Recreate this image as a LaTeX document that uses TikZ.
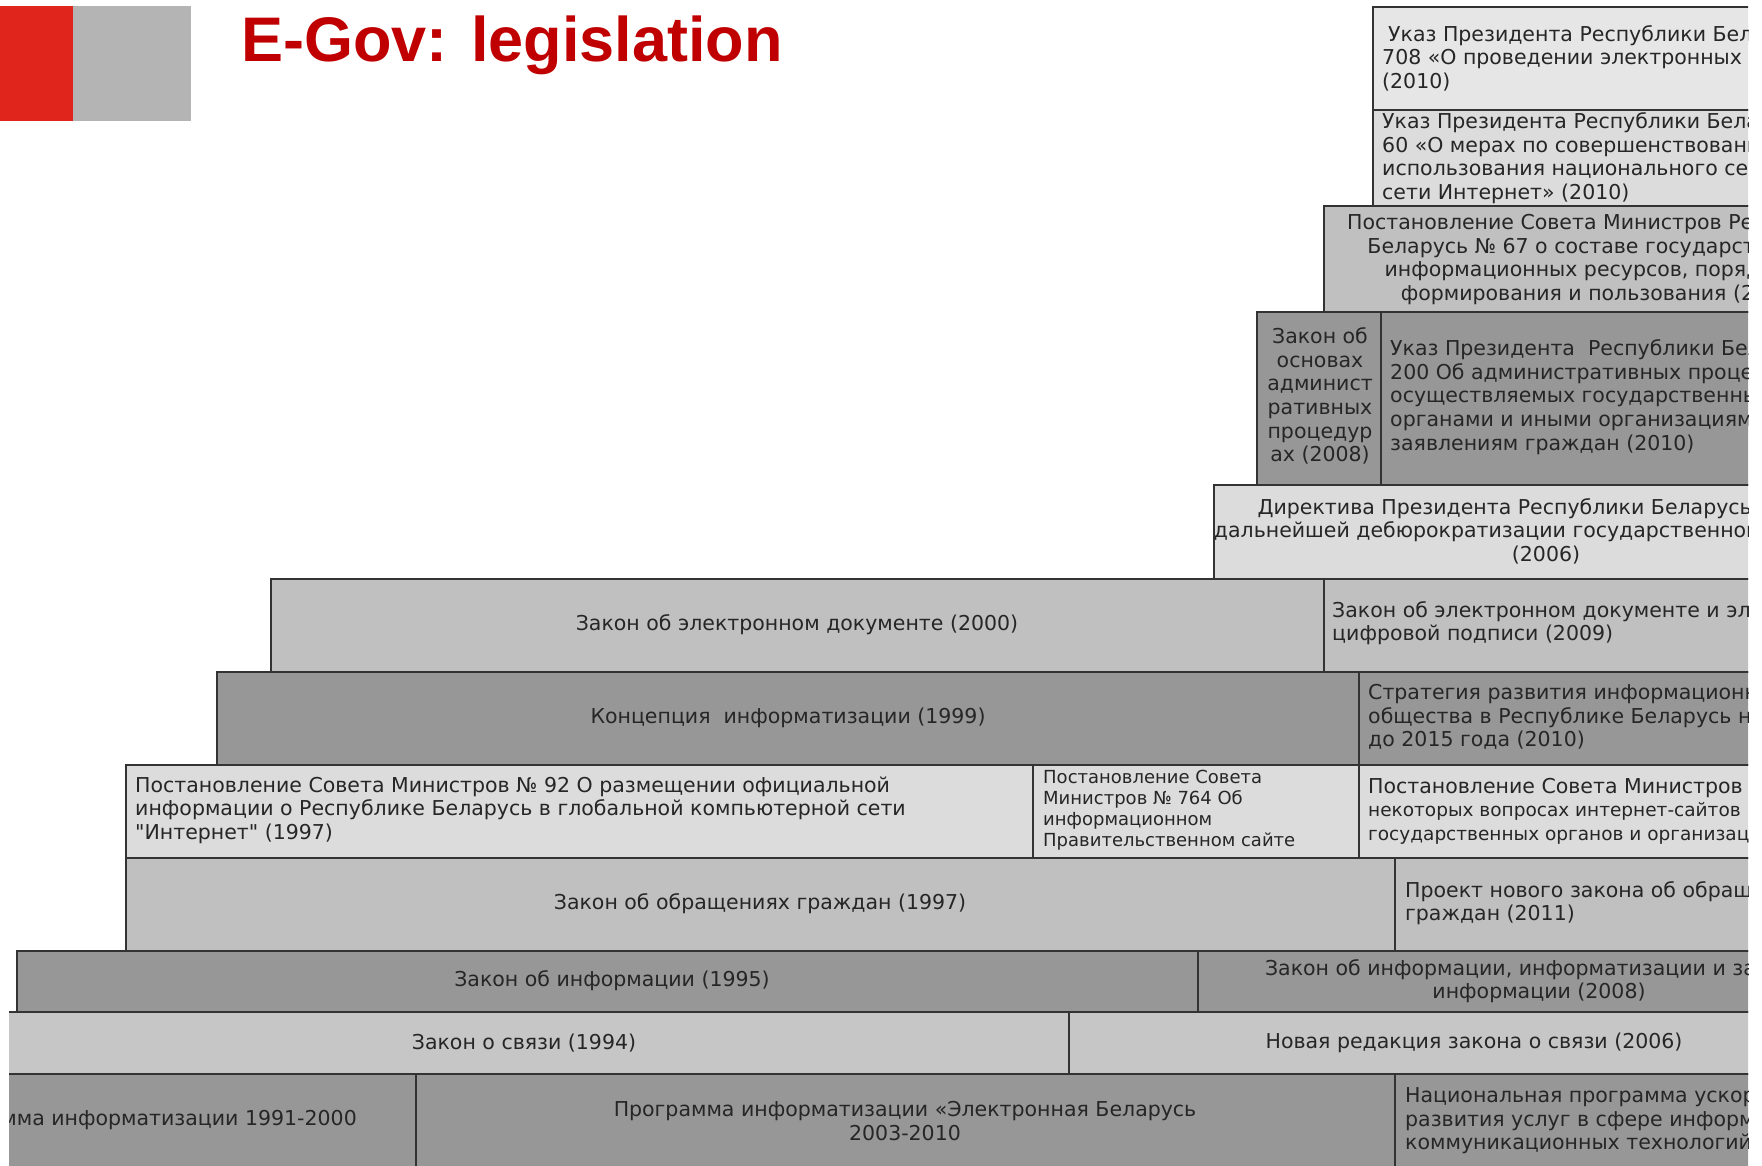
\documentclass[tikz,border=0pt]{standalone}
\usepackage{fontspec}
\setmainfont{DejaVu Sans}
\newfontfamily\plainsans{DejaVu Sans}
\newfontfamily\headfont{Liberation Sans}
\definecolor{headred}{HTML}{C00000}
\definecolor{markred}{HTML}{E0261C}
\definecolor{markgray}{HTML}{B4B4B4}
\definecolor{paleA}{HTML}{E6E6E6}
\definecolor{pale}{HTML}{DCDCDC}
\definecolor{midgray}{HTML}{C0C0C0}
\definecolor{midpale}{HTML}{C6C6C6}
\definecolor{deep}{HTML}{979797}
\tikzset{cell/.style = {draw = black!80, line width = 2}}
\tikzset{txt/.style = {inner sep = 0, text = black!85, font = \fontsize{20.5}{23.6}\selectfont}}
\tikzset{txtsmall/.style = {txt, font = \fontsize{18}{21}\selectfont}}

\begin{document}
\begin{tikzpicture}[x=1pt, y=-1pt]
      \useasboundingbox (0, 0) rectangle (1762, 1166);
      \fill[markred] (0, 6) rectangle (73, 121);
      \fill[markgray] (73, 6) rectangle (191, 121);
      \node (title) [anchor = base west, inner sep = 0, text = headred,
        font = \headfont\bfseries\fontsize{63}{70}\selectfont] at (241, 62) {E-Gov: legislation};
      \begin{scope}
        \clip (9, 0) rectangle (1748, 1166);
        % top steps
        \foreach \xa/\ya/\xb/\yb/\c in {1373/7/1880/110/paleA, 1373/110/1880/206/pale,
            1324/206/1880/312/midgray, 1257/312/1381/485/deep, 1381/312/1880/485/deep,
            1214/485/1880/579/pale} {
          \filldraw[cell, fill = \c] (\xa, \ya) rectangle (\xb, \yb);
        }
        % long rows
        \foreach \xa/\ya/\xb/\yb/\c in {271/579/1324/672/midgray, 1324/579/1880/672/midgray,
            217/672/1359/765/deep, 1359/672/1880/765/deep,
            126/765/1033/858/pale, 1033/765/1359/858/pale, 1359/765/1880/858/pale,
            126/858/1395/951/midgray, 1395/858/1880/951/midgray,
            17/951/1198/1012/deep, 1198/951/1880/1012/deep,
            -30/1012/1069/1074/midpale, 1069/1012/1880/1074/midpale,
            -30/1074/416/1200/deep, 416/1074/1395/1200/deep, 1395/1074/1880/1200/deep} {
          \filldraw[cell, fill = \c] (\xa, \ya) rectangle (\xb, \yb);
        }
        \node (ukaz708) [txt, anchor = west, align = left] at (1382, 58)
          {\hspace*{6pt}Указ Президента Республики Беларусь №\\708 «О проведении электронных аукционов»\\(2010)};
        \node (ukaz60) [txt, anchor = west, align = left] at (1382, 158)
          {Указ Президента Республики Беларусь №\\60 «О мерах по совершенствованию\\использования национального сегмента\\сети Интернет» (2010)};
        \node (post67) [txt, align = center] at (1601, 259)
          {Постановление Совета Министров Республики\\Беларусь № 67 о составе государственных\\информационных ресурсов, порядке их\\формирования и пользования (2010)};
        \node (zakadm) [txt, align = center] at (1320, 396)
          {Закон об\\основах\\админист\\ративных\\процедур\\ах (2008)};
        \node (ukaz200) [txt, anchor = west, align = left] at (1390, 397)
          {Указ Президента\ \ Республики Беларусь №\\200 Об административных процедурах,\\осуществляемых государственными\\органами и иными организациями по\\заявлениям граждан (2010)};
        \node (direct) [txt, align = center] at (1546, 531)
          {Директива Президента Республики Беларусь № 2 «О\\дальнейшей дебюрократизации государственного аппарата\\(2006)};
        \node (zakdoc) [txt] at (797, 625) {Закон об электронном документе (2000)};
        \node (zakdocnew) [txt, anchor = west, align = left] at (1332, 623)
          {Закон об электронном документе и электронной\\цифровой подписи (2009)};
        \node (concept) [txt] at (788, 718) {Концепция\ \ информатизации (1999)};
        \node (strat) [txt, anchor = west, align = left] at (1368, 717)
          {Стратегия развития информационного\\общества в Республике Беларусь на период\\до 2015 года (2010)};
        \node (post92) [txt, anchor = west, align = left] at (135, 810)
          {Постановление Совета Министров № 92 О размещении официальной\\информации о Республике Беларусь в глобальной компьютерной сети\\{\plainsans"}Интернет{\plainsans"} (1997)};
        \node (post764) [txtsmall, anchor = west, align = left] at (1043, 810)
          {Постановление Совета\\Министров № 764 Об\\информационном\\Правительственном сайте};
        \node (post645) [txt, anchor = west, align = left] at (1368, 811)
          {Постановление Совета Министров № 645 О\\{\fontsize{18.5}{23.6}\selectfont некоторых вопросах интернет-сайтов}\\{\fontsize{18.5}{23.6}\selectfont государственных органов и организаций}};
        \node (zakobr) [txt] at (760, 904) {Закон об обращениях граждан (1997)};
        \node (zakobrnew) [txt, anchor = west, align = left] at (1405, 903)
          {Проект нового закона об обращениях\\граждан (2011)};
        \node (zakinf) [txt] at (612, 981) {Закон об информации (1995)};
        \node (zakinfnew) [txt, align = center] at (1539, 981)
          {Закон об информации, информатизации и защите\\информации (2008)};
        \node (zaksv) [txt] at (524, 1043) {Закон о связи (1994)};
        \node (zaksvnew) [txt] at (1474, 1043) {Новая редакция закона о связи (2006)};
        \node (prog91) [txt, anchor = east] at (357, 1120) {Программа информатизации 1991-2000};
        \node (progeb) [txt, align = center] at (905, 1121)
          {Программа информатизации «Электронная Беларусь\\2003-2010};
        \node (natprog) [txt, anchor = west, align = left] at (1405, 1121)
          {Национальная программа ускоренного\\развития услуг в сфере информационно-\\коммуникационных технологий на 2011--2015 годы};
      \end{scope}
    \end{tikzpicture}
\end{document}
